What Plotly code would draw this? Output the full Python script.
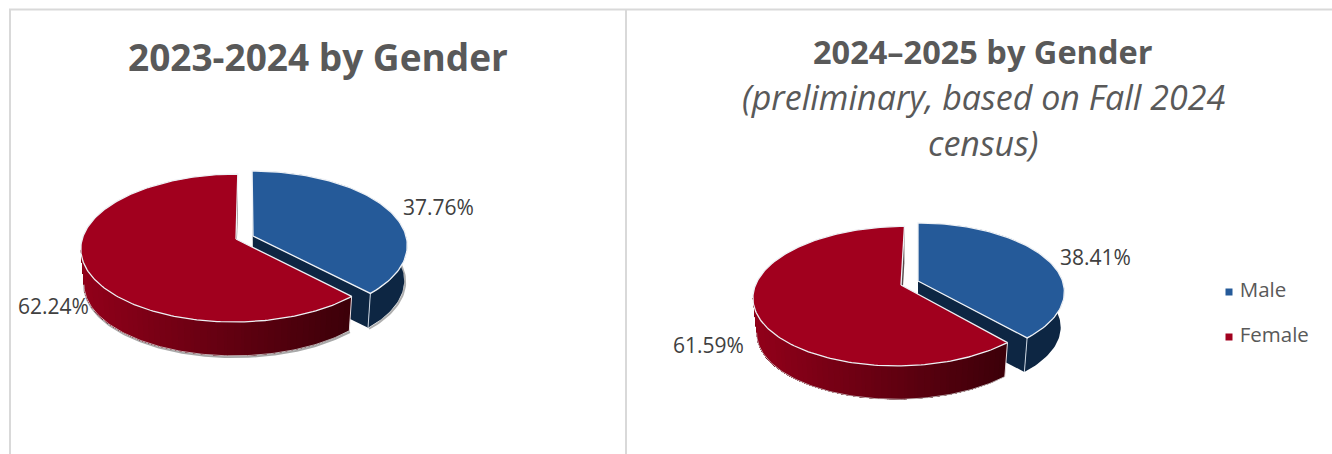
import numpy as np
import plotly.graph_objects as go

# Data
genders = ["Male", "Female"]
share_2023 = [37.76, 62.24]
share_2024 = [38.41, 61.59]
title_2023 = "<b>2023-2024 by Gender</b>"
title_2024 = ["<b>2024–2025 by Gender</b>", "<i>(preliminary, based on Fall 2024</i>", "<i>census)</i>"]

# Style
BLUE, NAVY, RED = "#255A99", "#0D2643", "#A1001E"
SIDE_L, SIDE_R = (146, 0, 26), (60, 0, 9)
RIM = "#EEF1F5"
W, H = 1332, 454
FONT = "Open Sans"
KEY_X, KEY_Y = 1229, [292, 337]

fig = go.Figure()


def poly(xs, ys, fill, line=None, lw=0.0):
    fig.add_trace(go.Scatter(
        x=list(xs), y=list(ys), mode="lines", fill="toself", fillcolor=fill,
        line=dict(color=line or fill, width=lw), hoverinfo="skip", showlegend=False))


def stroke(xs, ys, color, lw):
    fig.add_trace(go.Scatter(
        x=list(xs), y=list(ys), mode="lines", line=dict(color=color, width=lw),
        hoverinfo="skip", showlegend=False))


def project(theta, g):
    X, Y = np.sin(theta), np.cos(theta)
    w = 1 + g["k"] * Y
    return g["ax"] + (g["A"] * X + g["sk"] * Y) / w, g["ay"] - g["B"] * Y / w


def lower(x, y, g, depth, s):
    """Lower rim of a slice: the upper rim, slightly smaller and pushed down."""
    return g["ax"] + (np.asarray(x) - g["ax"]) * s, g["ay"] + (np.asarray(y) - g["ay"]) * s + depth


def gradient(t):
    t = float(np.clip(t, 0, 1))
    c = [round(a + (b - a) * t) for a, b in zip(SIDE_L, SIDE_R)]
    return f"rgb({c[0]},{c[1]},{c[2]})"


def pie3d(values, male_geo, female_geo, depth, s, shadow):
    m = values[0] / sum(values) * 2 * np.pi
    # male slice walls
    g = male_geo
    t0x, t0y = project(0.0, g)
    bx, by = lower(t0x, t0y, g, depth, s)
    poly([g["ax"], t0x, bx, g["ax"]], [g["ay"], t0y, by, g["ay"] + depth], "#4A4F57")
    tx, ty = project(m, g)
    arc = np.linspace(0, m, 90)
    ox, oy = project(arc, g)
    lx, ly = lower(ox, oy, g, depth, s)
    if shadow:
        keep = (ox > tx - 1) & (arc > np.pi / 3)
        stroke(lx[keep] + 1, ly[keep] + 1, "rgba(110,110,110,0.55)", 2)
    poly(np.r_[ox, lx[::-1]], np.r_[oy, ly[::-1]], NAVY)
    poly([g["ax"], tx, lx[-1], g["ax"]], [g["ay"], ty, ly[-1], g["ay"] + depth], NAVY)
    stroke([tx, lx[-1]], [ty, ly[-1]], "#C9D3DF", 1)

    # female slice walls
    f = female_geo
    t0x, t0y = project(2 * np.pi, f)
    bx, by = lower(t0x, t0y, f, depth, s)
    poly([f["ax"], t0x, bx, f["ax"]], [f["ay"], t0y, by, f["ay"] + depth], "#5A4A4C")
    arc_f = np.linspace(m, 2 * np.pi, 200)
    fx, fy = project(arc_f, f)
    bx, by = lower(fx, fy, f, depth, s)
    front = np.arange(fx.argmin() + 1)
    if shadow:
        stroke(bx[front] + 0.5, by[front] + 1, "rgba(110,110,110,0.6)", 2.5)
    xmin, xmax = fx.min(), fx[0]
    # overlapping bands, dark end first, so no seams show between them
    edges = np.linspace(xmax, xmin, 48)
    for a, b in zip(edges[:-1], edges[1:]):
        sel = (fx <= a + 0.01) & (np.arange(fx.size) <= front[-1])
        col = gradient((0.5 * (a + b) - xmin) / (xmax - xmin))
        poly(np.r_[fx[sel], bx[sel][::-1]], np.r_[fy[sel], by[sel][::-1]], col)
    stroke([fx[0], bx[0]], [fy[0], by[0]], "#E8DDE0", 1)
    stroke(bx[front], by[front], "#D8D8D8", 0.8)

    # tops
    poly(np.r_[f["ax"], fx, f["ax"]], np.r_[f["ay"], fy, f["ay"]], RED, RIM, 1.3)
    poly(np.r_[g["ax"], ox, g["ax"]], np.r_[g["ay"], oy, g["ay"]], BLUE, RIM, 1.3)


pie3d(share_2023,
      dict(ax=253, ay=236, A=153.0, B=72.9, k=0.1216, sk=-1),
      dict(ax=236, ay=239, A=153.8, B=72.9, k=0.1216, sk=2),
      depth=35.5, s=0.98, shadow=True)
pie3d(share_2024,
      dict(ax=918, ay=281, A=144.5, B=67.2, k=0.159, sk=0),
      dict(ax=901, ay=285, A=145.5, B=68.0, k=0.159, sk=4),
      depth=35.5, s=0.975, shadow=False)

# colour key
for name, col, y in zip(genders, [BLUE, RED], KEY_Y):
    fig.add_trace(go.Scatter(
        x=[KEY_X], y=[y], mode="markers+text", name=name, text=[" " + name],
        textposition="middle right", showlegend=False,
        textfont=dict(family=FONT, size=20.5, color="#595959"),
        marker=dict(symbol="square", size=7, color=col)))


def note(x, y, text, size, color="#595959", **kw):
    fig.add_annotation(x=x, y=y, text=text, showarrow=False, xref="x", yref="y",
                       font=dict(family=FONT, size=size, color=color), **kw)


note(318, 56, title_2023, 37)
for y, t, s in zip([51, 97, 143], title_2024, [32.5, 34, 34]):
    note(983, y, t, s)
note(438, 207, f"{share_2023[0]:.2f}%", 21, "#404040")
note(53, 306, f"{share_2023[1]:.2f}%", 21, "#404040")
note(1095, 257, f"{share_2024[0]:.2f}%", 21, "#404040")
note(708, 345, f"{share_2024[1]:.2f}%", 21, "#404040")

frame = dict(type="line", xref="x", yref="y", line=dict(color="#D9D9D9", width=2), layer="below")
fig.update_layout(
    shapes=[dict(frame, x0=9, x1=W, y0=9.5, y1=9.5),
            dict(frame, x0=10, x1=10, y0=9, y1=H),
            dict(frame, x0=626, x1=626, y0=9, y1=H)],
    width=W, height=H, margin=dict(l=0, r=0, t=0, b=0), showlegend=False,
    paper_bgcolor="white", plot_bgcolor="white",
    xaxis=dict(range=[0, W], visible=False),
    yaxis=dict(range=[H, 0], visible=False),
)
fig.write_html("out.html", config=dict(displayModeBar=False),
               post_script="document.body.style.margin='0';document.body.style.overflow='hidden';")
